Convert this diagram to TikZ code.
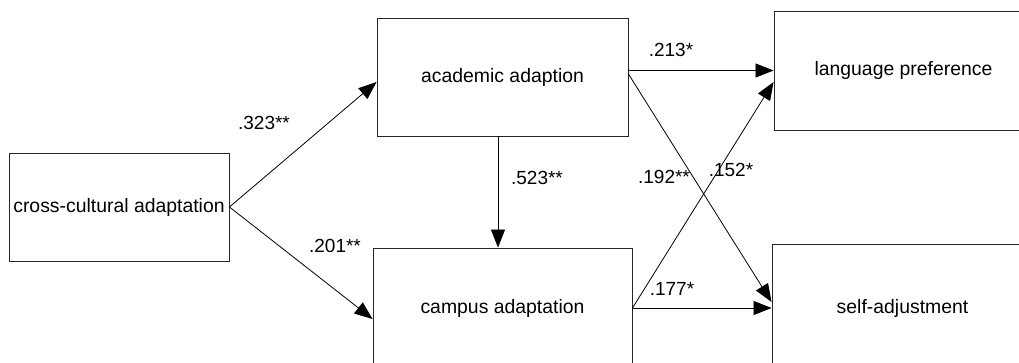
\documentclass[tikz,border=0pt]{standalone}
\usepackage{fontspec}
\setmainfont{Liberation Sans}
\usetikzlibrary{arrows.meta}
\begin{document}
\begin{tikzpicture}[x=1pt,y=-1pt,
  box/.style={draw=black!85,line width=0.9pt,rectangle,inner sep=0pt,font=\fontsize{19.4}{23}\selectfont},
  lbl/.style={inner sep=0pt,font=\fontsize{19}{23}\selectfont},
  conn/.style={line width=0.8pt,-{Triangle[length=18pt,width=14pt]}}]
\useasboundingbox (0,0) rectangle (1019,363);
\clip (0,0) rectangle (1019,363);
\node[box,minimum width=220pt,minimum height=108pt] (cross) at (119,207) {cross-cultural adaptation};
\node[box,minimum width=251pt,minimum height=118pt] (acad) at (502.5,77) {academic adaption};
\node[box,minimum width=259pt,minimum height=120pt] (campus) at (502.5,308) {campus adaptation};
\node[box,minimum width=259pt,minimum height=119pt] (lang) at (903.5,70.5) {language preference};
\node[box,minimum width=261pt,minimum height=128pt] (self) at (902.5,308) {self-adjustment};
\draw[conn] (cross.east) -- ([yshift=-5pt]acad.west);
\draw[conn] (cross.east) -- ([yshift=-11pt]campus.west);
\draw[conn] ([xshift=-4.5pt]acad.south) -- ([xshift=-4.5pt]campus.north);
\draw[conn] (acad.east |- lang.west) -- (lang.west);
\draw[conn] ([yshift=3pt]acad.east) -- ([yshift=6pt]self.west);
\draw[conn] (campus.east) -- ([yshift=-11.5pt]lang.west);
\draw[conn] (campus.east) -- (self.west |- campus.east);
\node[lbl] (l323) at (264,123) {.323**};
\node[lbl] (l201) at (335,246) {.201**};
\node[lbl] (l213) at (671,50) {.213*};
\node[lbl] (l523) at (537,178) {.523**};
\node[lbl] (l192) at (664,177) {.192**};
\node[lbl] (l152) at (731,170) {.152*};
\node[lbl] (l177) at (672,289) {.177*};
\end{tikzpicture}
\end{document}
